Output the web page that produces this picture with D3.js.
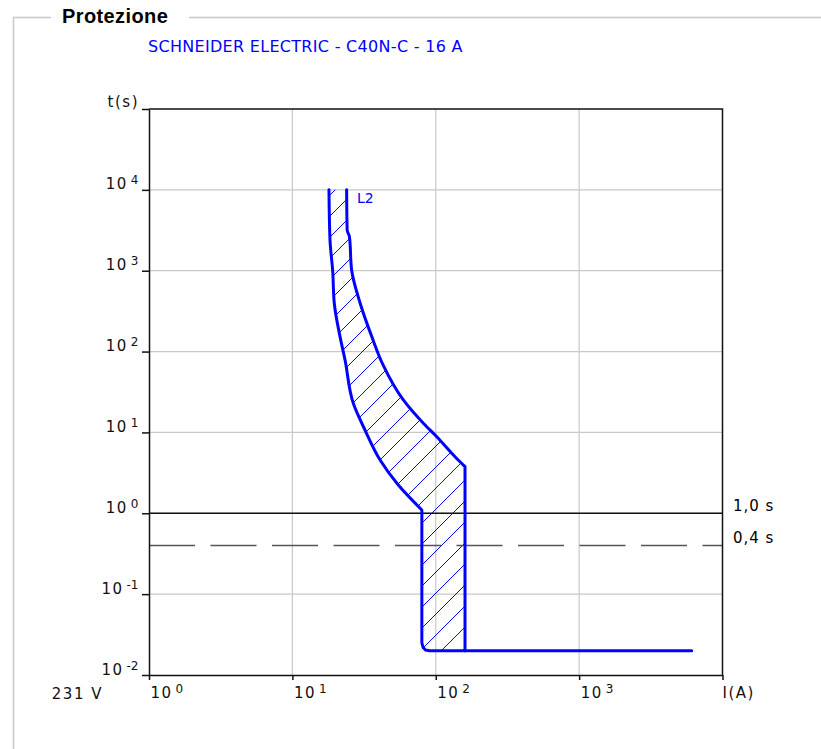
<!DOCTYPE html>
<html>
<head>
<meta charset="utf-8">
<script src="https://cdn.jsdelivr.net/npm/d3@7"></script>
<style>
  body { margin: 0; background: #fff; }
  text { font-family: "DejaVu Sans", Verdana, sans-serif; }
</style>
</head>
<body>
<div id="chart"></div>
<script>
// Tripping curve of the breaker (current in A, time in s)
const minCurveI = [18.0, 18.3, 19.1, 19.6, 21.5, 23.3, 26.6, 32.1, 40.9, 54.8, 80];
const minCurveT = [10000, 2400, 1000, 396, 153, 78.7, 22.9, 10.7, 4.56, 2.24, 1.1];
const maxCurveI = [23.9, 24.1, 25.0, 25.9, 29.7, 35.8, 42.9, 59.4, 81.9, 101.6, 136.3, 160];
const maxCurveT = [10000, 3190, 2637, 1021, 396, 153, 68.3, 25.2, 13.0, 8.86, 5.01, 3.77];
// magnetic part: vertical drop to the instantaneous time, then flat to the max current
const magI = [80, 160];
const instantT = 0.02;
const tailI = 6100;

// Axis ticks
const xTicks = [1, 10, 100, 1000, 10000];
const xTickExp = ["0", "1", "2", "3"];
const yTicks = [0.01, 0.1, 1, 10, 100, 1000, 10000, 100000];
const yTickExp = ["-2", "-1", "0", "1", "2", "3", "4"];

// Reference times
const refTimes = [1, 0.4];
const refLabels = ["1,0 s", "0,4 s"];

const W = 821, H = 749;
const svg = d3.select("#chart").append("svg")
  .attr("width", W)
  .attr("height", H);

// frame "Protezione"
const frame = svg.append("g").attr("stroke", "#c8c8c8").attr("stroke-width", 1.5);
frame.append("line").attr("x1", 13.5).attr("x2", 13.5).attr("y1", 17.5).attr("y2", H);
frame.append("line").attr("x1", 13).attr("x2", 51).attr("y1", 17.5).attr("y2", 17.5);
frame.append("line").attr("x1", 189).attr("x2", W).attr("y1", 17.5).attr("y2", 17.5);

svg.append("text")
  .attr("x", 62).attr("y", 23)
  .style("font-family", "'Liberation Sans', Arial, sans-serif")
  .style("font-weight", "bold")
  .style("font-size", "20px")
  .style("letter-spacing", "0.4px")
  .text("Protezione");

svg.append("text")
  .attr("x", 148).attr("y", 52)
  .attr("fill", "#0000ff")
  .style("font-size", "16px")
  .style("letter-spacing", "0.3px")
  .text("SCHNEIDER ELECTRIC - C40N-C - 16 A");

const x = d3.scaleLog().domain([1, 10000]).range([149, 722.5]);
const y = d3.scaleLog().domain([0.01, 100000]).range([675, 109]);

// grid
const grid = svg.append("g").attr("stroke", "#c8c8c8").attr("stroke-width", 1.2);
grid.selectAll(".gx")
  .data(xTicks.slice(1, -1))
  .join("line")
  .attr("x1", d => x(d)).attr("x2", d => x(d))
  .attr("y1", y(100000)).attr("y2", y(0.01));
grid.selectAll(".gy")
  .data(yTicks.slice(1, -1))
  .join("line")
  .attr("x1", x(1)).attr("x2", x(10000))
  .attr("y1", d => y(d)).attr("y2", d => y(d));

// hatch pattern
const defs = svg.append("defs");
defs.append("pattern")
  .attr("id", "hatch")
  .attr("patternUnits", "userSpaceOnUse")
  .attr("width", 21).attr("height", 21)
  .append("path")
  .attr("d", "M0,21L21,0M-5.25,5.25L5.25,-5.25M15.75,26.25L26.25,15.75")
  .attr("stroke", "#0000ff")
  .attr("stroke-width", 1);

const minPts = minCurveI.map((d, i) => [d, minCurveT[i]]);
const maxPts = maxCurveI.map((d, i) => [d, maxCurveT[i]]);

const smooth = d3.line()
  .x(d => x(d[0])).y(d => y(d[1]))
  .curve(d3.curveMonotoneY);
const straight = d3.line()
  .x(d => x(d[0])).y(d => y(d[1]));
const cont = pts => straight(pts).replace(/^M/, "L");

// hatched band between the curves
const bandPath = smooth(minPts)
  + cont([[magI[0], instantT], [magI[1], instantT]])
  + smooth(maxPts.slice().reverse()).replace(/^M/, "L")
  + "Z";
svg.append("path")
  .attr("d", bandPath)
  .attr("fill", "url(#hatch)")
  .attr("stroke", "none");

// reference time lines
svg.append("line")
  .attr("x1", x(1)).attr("x2", x(10000))
  .attr("y1", y(refTimes[0])).attr("y2", y(refTimes[0]))
  .attr("stroke", "#111").attr("stroke-width", 1.5);
svg.append("line")
  .attr("x1", x(1)).attr("x2", x(10000))
  .attr("y1", y(refTimes[1])).attr("y2", y(refTimes[1]))
  .attr("stroke", "#555").attr("stroke-width", 1.5)
  .attr("stroke-dasharray", "46 15.5");

svg.selectAll(".reflabel")
  .data(refTimes)
  .join("text")
  .attr("x", 733)
  .attr("y", d => y(d) - 2)
  .style("font-size", "15px")
  .style("letter-spacing", "1px")
  .text((d, i) => refLabels[i]);

// curves
const curveG = svg.append("g")
  .attr("fill", "none")
  .attr("stroke", "#0000ff")
  .attr("stroke-width", 3)
  .attr("stroke-linejoin", "round")
  .attr("stroke-linecap", "round");
curveG.append("path")
  .attr("d", smooth(minPts) + cont([[magI[0], instantT * 1.25], [magI[0] * 1.02, instantT * 1.1], [magI[0] * 1.06, instantT * 1.02], [magI[0] * 1.13, instantT], [magI[1], instantT]]));
curveG.append("path")
  .attr("d", smooth(maxPts) + cont([[magI[1], instantT], [tailI, instantT]]));

svg.append("text")
  .attr("x", 357).attr("y", 203)
  .attr("fill", "#0000ff")
  .style("font-size", "14px")
  .text("L2");

// axes
const yAxis = svg.append("g")
  .attr("transform", `translate(${x(1)},0)`)
  .call(d3.axisLeft(y).tickValues(yTicks).tickSize(7).tickSizeOuter(0).tickFormat(""));
const xAxis = svg.append("g")
  .attr("transform", `translate(0,${y(0.01)})`)
  .call(d3.axisBottom(x).tickValues(xTicks).tickSize(5).tickSizeOuter(0).tickFormat(""));
[yAxis, xAxis].forEach(a => {
  a.select(".domain").attr("stroke", "#111").attr("stroke-width", 1.5);
  a.selectAll(".tick line").attr("stroke", "#111").attr("stroke-width", 1.5);
});

// top and right border of the plot
svg.append("path")
  .attr("d", `M${x(1)},${y(100000)}H${x(10000)}V${y(0.01)}`)
  .attr("fill", "none")
  .attr("stroke", "#111")
  .attr("stroke-width", 1.5);

// tick labels 10^n
yAxis.selectAll(".tick")
  .filter((d, i) => i < yTickExp.length)
  .append("text")
  .attr("x", -10.5).attr("y", -1)
  .attr("text-anchor", "end")
  .attr("fill", "#111")
  .style("font-size", "15px")
  .style("letter-spacing", "1.5px")
  .each(function (d, i) {
    const t = d3.select(this);
    t.append("tspan").text("10");
    t.append("tspan").attr("dx", 3).attr("dy", -5).style("font-size", "12px").style("letter-spacing", "0px").text(yTickExp[i]);
  });

xAxis.selectAll(".tick")
  .filter((d, i) => i < xTickExp.length)
  .append("text")
  .attr("x", 1).attr("y", 23)
  .attr("text-anchor", "start")
  .attr("fill", "#111")
  .style("font-size", "15px")
  .style("letter-spacing", "1.5px")
  .each(function (d, i) {
    const t = d3.select(this);
    t.append("tspan").text("10");
    t.append("tspan").attr("dx", 3).attr("dy", -5).style("font-size", "12px").style("letter-spacing", "0px").text(xTickExp[i]);
  });

const axisText = svg.append("g")
  .attr("fill", "#111")
  .style("font-size", "15px")
  .style("letter-spacing", "1.5px");
axisText.append("text").attr("x", 139).attr("y", 107).attr("text-anchor", "end").text("t(s)");
axisText.append("text").attr("x", x(10000)).attr("y", 698).text("I(A)");
axisText.append("text").attr("x", 103).attr("y", 699).attr("text-anchor", "end").text("231 V");
</script>
</body>
</html>
